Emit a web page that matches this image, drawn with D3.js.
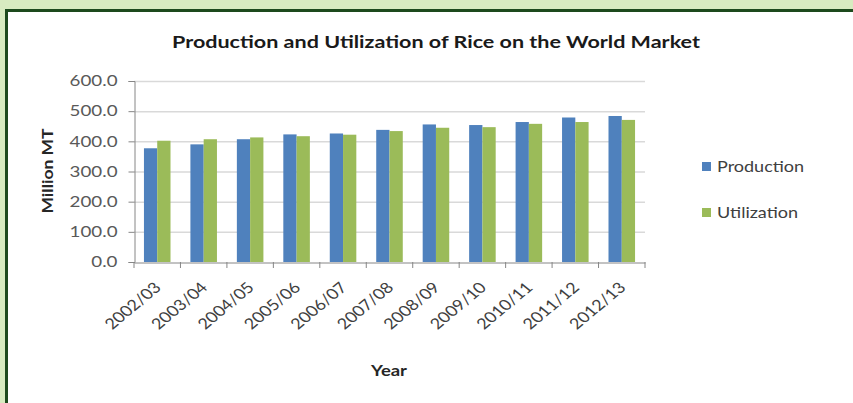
<!DOCTYPE html>
<html>
<head>
<meta charset="utf-8">
<script src="https://cdn.jsdelivr.net/npm/d3@7"></script>
<style>
  body { margin: 0; background: #d8ebc0; }
  svg { display: block; }
</style>
</head>
<body>
<div id="chart"></div>
<script>
// données
const years = ["2002/03", "2003/04", "2004/05", "2005/06", "2006/07", "2007/08",
               "2008/09", "2009/10", "2010/11", "2011/12", "2012/13"]
const production  = [377, 390, 407, 423, 426, 438, 456, 454, 464, 479, 484]
const utilization = [402, 407, 413, 417, 422, 434, 445, 447, 458, 464, 471]
const seriesNames = ["Production", "Utilization"]
const yTicks = [0, 100, 200, 300, 400, 500, 600]

const WIDTH = 853
const HEIGHT = 403
const colors = ["#4f81bd", "#9bbb59"]
const font = "Lato, 'Open Sans', sans-serif"

// le texte de l'image est étiré en largeur
function stretch(sel, k) {
  sel.each(function () {
    const w = this.getComputedTextLength()
    d3.select(this).attr("textLength", w * k).attr("lengthAdjust", "spacingAndGlyphs")
  })
}

const svg = d3.select("#chart").append("svg")
    .attr("width", WIDTH)
    .attr("height", HEIGHT)

// cadre blanc avec bord vert foncé
svg.append("rect")
    .attr("x", 6.5).attr("y", 10.5)
    .attr("width", 900).attr("height", 450)
    .attr("fill", "white")
    .attr("stroke", "#1d4a1d")
    .attr("stroke-width", 3)

const m = { left: 134, right: 645, top: 81, bottom: 262 }

const x = d3.scaleBand().domain(years).range([m.left, m.right])
const y = d3.scaleLinear().domain([0, 600]).range([m.bottom, m.top])
const bw = x.bandwidth() / 3.5
const rows = years.map((yr, i) => ({ yr, vals: [production[i], utilization[i]] }))

// grille
svg.append("g").selectAll("line").data(yTicks.slice(1)).join("line")
    .attr("x1", m.left).attr("x2", m.right)
    .attr("y1", d => y(d) + 0.5).attr("y2", d => y(d) + 0.5)
    .attr("stroke", "#d9d9d9").attr("stroke-width", 1.5)

// barres
svg.append("g").selectAll("g").data(rows).join("g")
  .selectAll("rect").data(d => d.vals.map((v, k) => ({ yr: d.yr, v, k }))).join("rect")
    .attr("x", d => x(d.yr) + bw * 0.75 + d.k * bw)
    .attr("y", d => y(d.v))
    .attr("width", bw)
    .attr("height", d => y(0) - y(d.v))
    .attr("fill", d => colors[d.k])

// axe y
const yAxis = svg.append("g")
    .attr("transform", `translate(${m.left + 0.5},0)`)
    .call(d3.axisLeft(y).tickValues(yTicks).tickFormat(d3.format(".1f")).tickSizeOuter(0).tickSize(6))
yAxis.select(".domain").attr("stroke", "#868686")
yAxis.selectAll(".tick line").attr("stroke", "#868686")
yAxis.selectAll("text")
    .attr("font-family", font).attr("font-size", 15).attr("fill", "#595959")
    .attr("x", -17)
    .call(stretch, 1.25)

// axe x
const xAxis = svg.append("g")
    .attr("transform", `translate(0,${m.bottom + 0.5})`)
    .call(d3.axisBottom(x).tickSize(0))
xAxis.select(".domain").attr("stroke", "#868686")
xAxis.selectAll(".tick text")
    .attr("font-family", font).attr("font-size", 15).attr("fill", "#404040")
    .attr("text-anchor", "end")
    .attr("y", 0).attr("dy", 0)
    .attr("transform", "translate(5,26) scale(1.2,1) rotate(-45)")
svg.append("g").selectAll("line").data(years.concat(["end"])).join("line")
    .attr("x1", (d, i) => m.left + i * x.step()).attr("x2", (d, i) => m.left + i * x.step())
    .attr("y1", m.bottom).attr("y2", m.bottom + 6)
    .attr("stroke", "#868686")

// titres
svg.append("text")
    .attr("x", 436).attr("y", 48)
    .attr("text-anchor", "middle")
    .attr("font-family", font).attr("font-weight", "bold").attr("font-size", 17)
    .attr("fill", "#1a1a1a")
    .text("Production and Utilization of Rice on the World Market")
    .attr("textLength", 528).attr("lengthAdjust", "spacingAndGlyphs")

svg.append("text")
    .attr("x", 389).attr("y", 376)
    .attr("text-anchor", "middle")
    .attr("font-family", font).attr("font-weight", "bold").attr("font-size", 15)
    .attr("fill", "#262626")
    .text("Year")
    .attr("textLength", 36).attr("lengthAdjust", "spacingAndGlyphs")

svg.append("text")
    .attr("transform", "translate(53,171) rotate(-90)")
    .attr("text-anchor", "middle")
    .attr("font-family", font).attr("font-weight", "bold").attr("font-size", 15)
    .attr("fill", "#262626")
    .text("Million MT")
    .attr("textLength", 85).attr("lengthAdjust", "spacingAndGlyphs")

// légende
const legend = svg.append("g").selectAll("g").data(seriesNames).join("g")
    .attr("transform", (d, i) => `translate(702,${162 + i * 46})`)
legend.append("rect")
    .attr("width", 9).attr("height", 9)
    .attr("fill", (d, i) => colors[i])
legend.append("text")
    .attr("x", 15).attr("y", 10)
    .attr("font-family", font).attr("font-size", 15).attr("fill", "#404040")
    .text(d => d)
    .call(stretch, 1.2)
</script>
</body>
</html>
